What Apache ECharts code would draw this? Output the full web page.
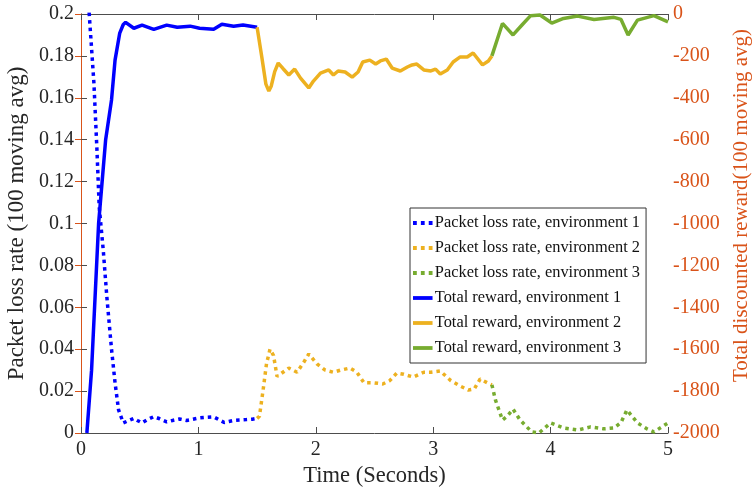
<!DOCTYPE html>
<html><head><meta charset="utf-8">
<script src="https://cdn.jsdelivr.net/npm/echarts@6/dist/echarts.min.js"></script>
<style>html,body{margin:0;padding:0;background:#fff}#c{width:752px;height:494px}</style>
</head><body><div id="c"></div>
<script>
// ---- data ----
const lossT1 = [0.06,0.07,0.11,0.136,0.155,0.19,0.22,0.26,0.29,0.32,0.36,0.40,0.45,0.48,0.52,0.57,0.62,0.67,0.73,0.78,0.84,0.90,0.95,1.01,1.07,1.13,1.18,1.22,1.26,1.30,1.35,1.41,1.46,1.50];
const loss1  = [0.215,0.2,0.167,0.135,0.108,0.087,0.065,0.04,0.024,0.011,0.0048,0.0058,0.007,0.006,0.0048,0.0065,0.0078,0.0068,0.0053,0.006,0.0067,0.006,0.0065,0.0072,0.0075,0.0077,0.0062,0.005,0.0055,0.006,0.0062,0.0064,0.0066,0.007];
const lossT2 = [1.50,1.52,1.55,1.58,1.61,1.64,1.67,1.72,1.77,1.84,1.90,1.94,2.01,2.08,2.15,2.21,2.29,2.35,2.41,2.49,2.57,2.63,2.69,2.75,2.83,2.92,2.98,3.06,3.15,3.23,3.30,3.35,3.40,3.46,3.50];
const loss2  = [0.007,0.008,0.02,0.033,0.040,0.037,0.027,0.029,0.031,0.029,0.034,0.0377,0.033,0.030,0.029,0.030,0.031,0.029,0.024,0.024,0.0234,0.025,0.0286,0.028,0.0267,0.029,0.029,0.0296,0.025,0.0224,0.0205,0.021,0.0258,0.024,0.023];
const lossT3 = [3.50,3.53,3.59,3.63,3.68,3.74,3.84,3.90,4.00,4.11,4.23,4.34,4.45,4.54,4.60,4.65,4.74,4.82,4.88,5.0];
const loss3  = [0.023,0.0158,0.0062,0.008,0.0114,0.0062,0.0005,0.0,0.0048,0.0024,0.0014,0.0029,0.002,0.0024,0.005,0.011,0.0048,0.002,0.0005,0.0048];
const rewT1 = [0.05,0.09,0.15,0.21,0.26,0.29,0.33,0.36,0.38,0.45,0.52,0.62,0.73,0.82,0.93,1.01,1.13,1.20,1.30,1.38,1.50];
const rew1  = [-2000,-1700,-1000,-600,-410,-220,-91,-50,-40,-68,-53,-73,-53,-63,-58,-68,-73,-49,-58,-53,-63];
const rewT2 = [1.50,1.54,1.575,1.60,1.62,1.65,1.68,1.72,1.77,1.82,1.87,1.94,1.98,2.04,2.11,2.15,2.19,2.25,2.31,2.36,2.40,2.46,2.51,2.55,2.60,2.65,2.72,2.78,2.82,2.86,2.92,2.98,3.02,3.06,3.12,3.17,3.23,3.29,3.34,3.42,3.47,3.50];
const rew2  = [-63,-205,-335,-368,-345,-275,-234,-260,-291,-263,-306,-353,-320,-282,-267,-291,-272,-277,-301,-277,-229,-220,-239,-224,-215,-258,-272,-253,-243,-239,-267,-272,-263,-286,-267,-229,-205,-205,-186,-243,-224,-200];
const rewT3 = [3.50,3.59,3.68,3.76,3.83,3.91,4.01,4.11,4.23,4.37,4.54,4.60,4.66,4.74,4.88,5.0];
const rew3  = [-200,-45,-100,-50,-8,-5,-43,-21,-10,-26,-16,-26,-100,-29,-8,-38];
const names = ['Packet loss rate, environment 1','Packet loss rate, environment 2','Packet loss rate, environment 3','Total reward, environment 1','Total reward, environment 2','Total reward, environment 3'];
const xTicks = [0,1,2,3,4,5];

const zip = (t, v) => t.map((x, i) => [x, v[i]]);
const C1 = '#0000FF', C2 = '#EDB120', C3 = '#77AC30', CR = '#D95319', AX = '#4d4d4d', TX = '#262626';
const FONT = '"Liberation Serif","Times New Roman",serif';
const dot = [3.5, 4];
const ICON_DOT = 'path://M0,0h7v7h-7zM14.5,0h7v7h-7zM29,0h7v7h-7zM0,0z';
const ICON_LINE = 'path://M0,0h36v7h-36z';
function ser(name, t, v, color, dotted, yIdx) {
  return { name, type: 'line', xAxisIndex: 0, yAxisIndex: yIdx, data: zip(t, v), symbol: 'none', showSymbol: false,
    clip: true, color, itemStyle: { color }, lineStyle: { color, width: 3.5, type: dotted ? dot : 'solid', cap: 'butt' }, z: 3 };
}
const chart = echarts.init(document.getElementById('c'), null, { renderer: 'canvas' });
chart.setOption({
  animation: false,
  backgroundColor: '#fff',
  textStyle: { fontFamily: FONT },
  grid: { left: 81, right: 84, top: 14, bottom: 61, containLabel: false, outerBoundsMode: 'none' },
  legend: {
    orient: 'vertical', left: 410, top: 208,
    data: names.map((n, i) => ({ name: n, icon: i < 3 ? ICON_DOT : ICON_LINE })),
    backgroundColor: '#fff', borderColor: '#333', borderWidth: 1, borderRadius: 0,
    padding: [7, 6, 7, 3], itemWidth: 20, itemHeight: 3.8, itemGap: 9,
    textStyle: { fontFamily: FONT, fontSize: 16.4, color: '#111', lineHeight: 16, padding: [0, 0, 0, -3] }
  },
  xAxis: [{
    type: 'value', min: 0, max: 5, interval: 1, position: 'bottom',
    name: 'Time (Seconds)', nameLocation: 'middle', nameGap: 32,
    nameTextStyle: { fontFamily: FONT, fontSize: 22.5, color: TX },
    axisLine: { show: true, lineStyle: { color: AX, width: 1 } },
    axisTick: { show: true, inside: true, length: 6, lineStyle: { color: AX } },
    axisLabel: { fontFamily: FONT, fontSize: 20, color: TX, margin: 7, formatter: v => xTicks.includes(v) ? String(v) : '' },
    splitLine: { show: false }
  }, {
    type: 'value', min: 0, max: 5, interval: 1, position: 'top',
    axisLine: { show: true, lineStyle: { color: AX, width: 1 } },
    axisTick: { show: true, inside: true, length: 6, lineStyle: { color: AX } },
    axisLabel: { show: false }, splitLine: { show: false }
  }],
  yAxis: [{
    type: 'value', min: 0, max: 0.2, interval: 0.02, position: 'left',
    name: 'Packet loss rate (100 moving avg)', nameLocation: 'middle', nameGap: 44,
    nameTextStyle: { fontFamily: FONT, fontSize: 23, color: TX },
    axisLine: { show: true, lineStyle: { color: AX, width: 1 } },
    axisTick: { show: true, inside: true, length: 6, lineStyle: { color: AX } },
    axisLabel: { fontFamily: FONT, fontSize: 20, color: TX, margin: 7, formatter: v => String(+v.toFixed(2)) },
    splitLine: { show: false }
  }, {
    type: 'value', min: -2000, max: 0, interval: 200, position: 'right',
    name: 'Total discounted reward(100 moving avg)', nameLocation: 'middle', nameGap: 58,
    nameTextStyle: { fontFamily: FONT, fontSize: 21, color: CR, padding: [0, 0, 0, 36] },
    axisLine: { show: true, lineStyle: { color: CR, width: 1 } },
    axisTick: { show: true, inside: true, length: 6, lineStyle: { color: CR } },
    axisLabel: { fontFamily: FONT, fontSize: 20, color: CR, margin: 5, formatter: v => String(v) },
    splitLine: { show: false }
  }],
  series: [
    ser(names[0], lossT1, loss1, C1, true, 0),
    ser(names[1], lossT2, loss2, C2, true, 0),
    ser(names[2], lossT3, loss3, C3, true, 0),
    ser(names[3], rewT1, rew1, C1, false, 1),
    ser(names[4], rewT2, rew2, C2, false, 1),
    ser(names[5], rewT3, rew3, C3, false, 1)
  ]
});
</script></body></html>
